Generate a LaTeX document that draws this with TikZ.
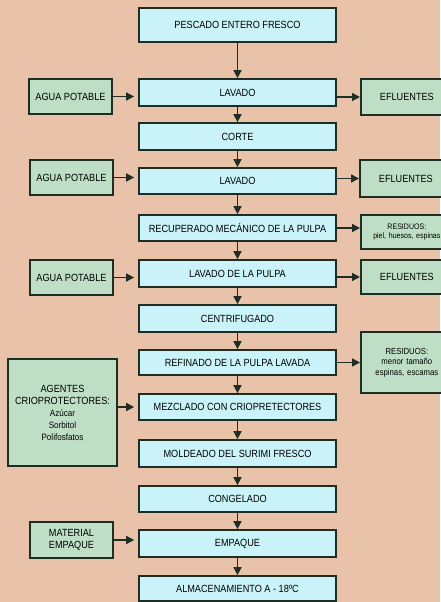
\documentclass[tikz,border=0pt]{standalone}
\usepackage{fontspec}
\setmainfont{Liberation Sans}[FakeStretch=0.88]
\usetikzlibrary{arrows.meta,positioning}
\definecolor{bgtan}{HTML}{E8C3AA}
\definecolor{mainfill}{HTML}{C9F3F8}
\definecolor{sidefill}{HTML}{BEDFC6}
\definecolor{edgecol}{HTML}{1E2E24}
\begin{document}
\begin{tikzpicture}[x=1pt,y=-1pt,
  mainbox/.style={draw=edgecol,line width=1.7pt,fill=mainfill,minimum width=197pt,minimum height=27pt,inner sep=1pt,font=\fontsize{10.4}{12}\selectfont,align=center},
  sidebox/.style={draw=edgecol,line width=1.7pt,fill=sidefill,minimum width=83pt,minimum height=35pt,inner sep=1pt,font=\fontsize{10.4}{12}\selectfont,align=center},
  rightbox/.style={sidebox,minimum width=92pt,text width=80pt,anchor=west},
  flow/.style={draw=edgecol,line width=1.6pt,-{Triangle[length=8pt,width=8pt]}},
  inflow/.style={flow,shorten >=4pt}]
\useasboundingbox[fill=bgtan] (0,0) rectangle (440,602);
% main column
\node[mainbox,minimum height=34pt] (m1) at (237.5,25) {PESCADO ENTERO FRESCO};
\node[mainbox] (m2) at (237.5,92.5) {LAVADO};
\node[mainbox] (m3) at (237.5,136.5) {CORTE};
\node[mainbox,minimum height=26pt] (m4) at (237.5,181) {LAVADO};
\node[mainbox,minimum height=26pt] (m5) at (237.5,228) {RECUPERADO MECÁNICO DE LA PULPA};
\node[mainbox] (m6) at (237.5,273.5) {LAVADO DE LA PULPA};
\node[mainbox] (m7) at (237.5,318.5) {CENTRIFUGADO};
\node[mainbox,minimum height=25pt] (m8) at (237.5,362.5) {REFINADO DE LA PULPA LAVADA};
\node[mainbox,minimum height=26pt] (m9) at (237.5,407) {MEZCLADO CON CRIOPRETECTORES};
\node[mainbox] (m10) at (237.5,453.5) {MOLDEADO DEL SURIMI FRESCO};
\node[mainbox,minimum height=26pt] (m11) at (237.5,499) {CONGELADO};
\node[mainbox] (m12) at (237.5,543.5) {EMPAQUE};
\node[mainbox,minimum height=25pt] (m13) at (237.5,588.5) {ALMACENAMIENTO A - 18ºC};
% left inputs
\node[sidebox] (a1) at (70.5,96.5) {AGUA POTABLE};
\node[sidebox] (a2) at (71.5,177.5) {AGUA POTABLE};
\node[sidebox] (a3) at (71.5,277.5) {AGUA POTABLE};
\node[sidebox,minimum width=109pt,minimum height=107pt] (a4) at (62.5,412.5)
  {AGENTES\\CRIOPROTECTORES:\\{\fontsize{9.2}{12}\selectfont Azúcar}\\{\fontsize{9.2}{12}\selectfont Sorbitol}\\{\fontsize{9.2}{12}\selectfont Polifosfatos}};
\node[sidebox,minimum height=36pt,font=\fontsize{10.4}{11.5}\selectfont] (a5) at (71.5,540) {MATERIAL\\EMPAQUE};
% right outputs
\node[rightbox,minimum height=36pt] (e1) at (360,97) {EFLUENTES};
\node[rightbox,minimum height=37pt] (e2) at (359,178.5) {EFLUENTES};
\node[rightbox,minimum height=34pt,font=\fontsize{8}{9.2}\selectfont] (r1) at (360,232) {RESIDUOS:\\piel, huesos, espinas};
\node[rightbox,minimum height=34pt] (e3) at (360,277) {EFLUENTES};
\node[rightbox,minimum height=61pt,font=\fontsize{8.8}{10.4}\selectfont] (r2) at (360,362.5) {RESIDUOS:\\menor tamaño\\espinas, escamas};
% vertical flow
\foreach \i/\j in {m1/m2,m2/m3,m3/m4,m4/m5,m5/m6,m6/m7,m7/m8,m8/m9,m9/m10,m10/m11,m11/m12,m12/m13}
  \draw[flow] (\i) -- (\j);
% inputs
\draw[inflow] (a1.east) -- (a1.east -| m2.west);
\draw[inflow] (a2.east) -- (a2.east -| m4.west);
\draw[inflow] (a3.east) -- (a3.east -| m6.west);
\draw[inflow] (a4.east |- m9.west) -- (m9.west);
\draw[inflow] (a5.east) -- (a5.east -| m12.west);
% outputs
\draw[flow] (e1.west -| m2.east) -- (e1.west);
\draw[flow] (e2.west -| m4.east) -- (e2.west);
\draw[flow] (m5.east) -- (m5.east -| r1.west);
\draw[flow] (e3.west -| m6.east) -- (e3.west);
\draw[flow] (m8.east) -- (m8.east -| r2.west);
\end{tikzpicture}
\end{document}
